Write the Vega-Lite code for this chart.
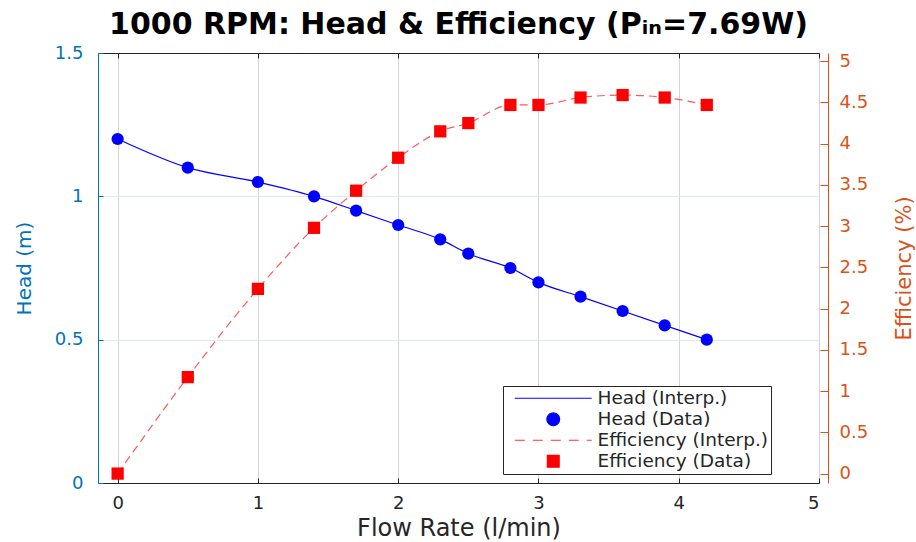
{
  "$schema": "https://vega.github.io/schema/vega-lite/v6.json",
  "width": 721,
  "height": 430,
  "autosize": {"type": "none"},
  "padding": {"left": 98, "top": 53, "right": 97, "bottom": 59},
  "background": "white",
  "title": {"text": "1000 RPM: Head & Efficiency (Pᵢₙ=7.69W)", "fontSize": 30, "font": "DejaVu Sans", "fontWeight": "bold", "color": "#000000", "anchor": "middle", "offset": 4},
  "config": {"view": {"stroke": "#b5b5b5", "strokeWidth": 1}, "font": "DejaVu Sans"},
  "data": {"values": [
    {"flow": 0.0, "head": 1.20, "eff": 0.00},
    {"flow": 0.5, "head": 1.10, "eff": 1.17},
    {"flow": 1.0, "head": 1.05, "eff": 2.24},
    {"flow": 1.4, "head": 1.00, "eff": 2.98},
    {"flow": 1.7, "head": 0.95, "eff": 3.43},
    {"flow": 2.0, "head": 0.90, "eff": 3.83},
    {"flow": 2.3, "head": 0.85, "eff": 4.15},
    {"flow": 2.5, "head": 0.80, "eff": 4.25},
    {"flow": 2.8, "head": 0.75, "eff": 4.47},
    {"flow": 3.0, "head": 0.70, "eff": 4.47},
    {"flow": 3.3, "head": 0.65, "eff": 4.56},
    {"flow": 3.6, "head": 0.60, "eff": 4.59},
    {"flow": 3.9, "head": 0.55, "eff": 4.56},
    {"flow": 4.2, "head": 0.50, "eff": 4.47}
  ]},
  "layer": [
    {
      "encoding": {
        "x": {"field": "flow", "type": "quantitative",
          "scale": {"domain": [-0.14, 5], "nice": false, "zero": false},
          "axis": {"orient": "bottom", "values": [0, 1, 2, 3, 4, 5], "format": "~g",
            "title": "Flow Rate (l/min)", "titleFontSize": 24, "titleFontWeight": "normal", "titleColor": "#262626", "titlePadding": 4,
            "labelFontSize": 18, "labelColor": "#262626", "labelPadding": 16,
            "domainColor": "#262626", "tickColor": "#262626", "tickSize": -5,
            "grid": true, "gridColor": "#d4d4d4"}},
        "y": {"field": "head", "type": "quantitative",
          "scale": {"domain": [0, 1.5], "nice": false, "zero": false},
          "axis": {"orient": "left", "values": [0, 0.5, 1, 1.5], "format": "~g",
            "title": "Head (m)", "titleFontSize": 20, "titleFontWeight": "normal", "titleColor": "#0072BD", "titlePadding": 20,
            "labelFontSize": 18, "labelColor": "#0072BD", "labelPadding": 20,
            "domainColor": "#0072BD", "tickColor": "#0072BD", "tickSize": -5,
            "grid": true, "gridColor": "#dce8f2"}}
      },
      "layer": [
        {"mark": {"type": "line", "interpolate": "monotone", "strokeWidth": 1.2},
         "encoding": {"color": {"datum": "Head (Interp.)"}}},
        {"mark": {"type": "point", "shape": "circle", "filled": true, "opacity": 1, "size": 150},
         "encoding": {"color": {"datum": "Head (Data)"}}}
      ]
    },
    {
      "encoding": {
        "x": {"field": "flow", "type": "quantitative",
          "scale": {"domain": [-0.14, 5], "nice": false, "zero": false},
          "axis": {"orient": "top", "values": [0, 1, 2, 3, 4, 5], "labels": false, "title": null,
            "domainColor": "#262626", "tickColor": "#262626", "tickSize": -5, "grid": false}},
        "y": {"field": "eff", "type": "quantitative",
          "scale": {"domain": [-0.114, 5.1], "nice": false, "zero": false},
          "axis": {"orient": "right", "offset": 9, "values": [0, 0.5, 1, 1.5, 2, 2.5, 3, 3.5, 4, 4.5, 5], "format": "~g",
            "title": "Efficiency (%)", "titleAngle": 270, "titleBaseline": "top", "titleFontSize": 21, "titleFontWeight": "normal", "titleColor": "#D95319", "titlePadding": 26,
            "labelFontSize": 18, "labelColor": "#D95319", "labelPadding": 19,
            "domainColor": "#D95319", "tickColor": "#D95319", "tickSize": -8,
            "grid": false}}
      },
      "layer": [
        {"mark": {"type": "line", "interpolate": "monotone", "strokeWidth": 1.2, "strokeDash": [8, 5], "opacity": 0.8},
         "encoding": {"color": {"datum": "Efficiency (Interp.)"}}},
        {"mark": {"type": "point", "shape": "square", "filled": true, "opacity": 1, "size": 150},
         "encoding": {"color": {"datum": "Efficiency (Data)"}}}
      ]
    }
  ],
  "resolve": {"scale": {"y": "independent"}, "axis": {"x": "independent"}},
  "encoding": {
    "color": {"scale": {"domain": ["Head (Interp.)", "Head (Data)", "Efficiency (Interp.)", "Efficiency (Data)"], "range": ["#0000ff", "#0000ff", "#ff3030", "#ff0000"]},
      "legend": {
        "title": null, "orient": "none", "legendX": 405, "legendY": 333,
        "strokeColor": "#262626", "fillColor": "#ffffff", "padding": 3,
        "labelFontSize": 18.5, "labelColor": "#262626", "labelFont": "DejaVu Sans", "labelLimit": 400,
        "symbolSize": 140, "symbolOffset": 38, "labelOffset": 35, "rowPadding": 2,
        "encode": {"symbols": {"update": {
          "shape": {"signal": "datum.value === 'Head (Data)' ? 'circle' : datum.value === 'Efficiency (Data)' ? 'square' : 'M-6.5,0H6.5'"},
          "size": {"signal": "datum.value === 'Head (Data)' ? 160 : 140"},
          "fill": {"signal": "datum.value === 'Head (Data)' ? '#0000ff' : datum.value === 'Efficiency (Data)' ? '#ff0000' : 'transparent'"},
          "stroke": {"signal": "datum.value === 'Head (Interp.)' ? '#0000ff' : datum.value === 'Efficiency (Interp.)' ? '#ff5050' : 'transparent'"},
          "strokeWidth": {"value": 1.2},
          "strokeDash": {"signal": "datum.value === 'Efficiency (Interp.)' ? [10, 8] : [1, 0]"},
          "opacity": {"value": 1}
        }}}
      }}
  }
}
